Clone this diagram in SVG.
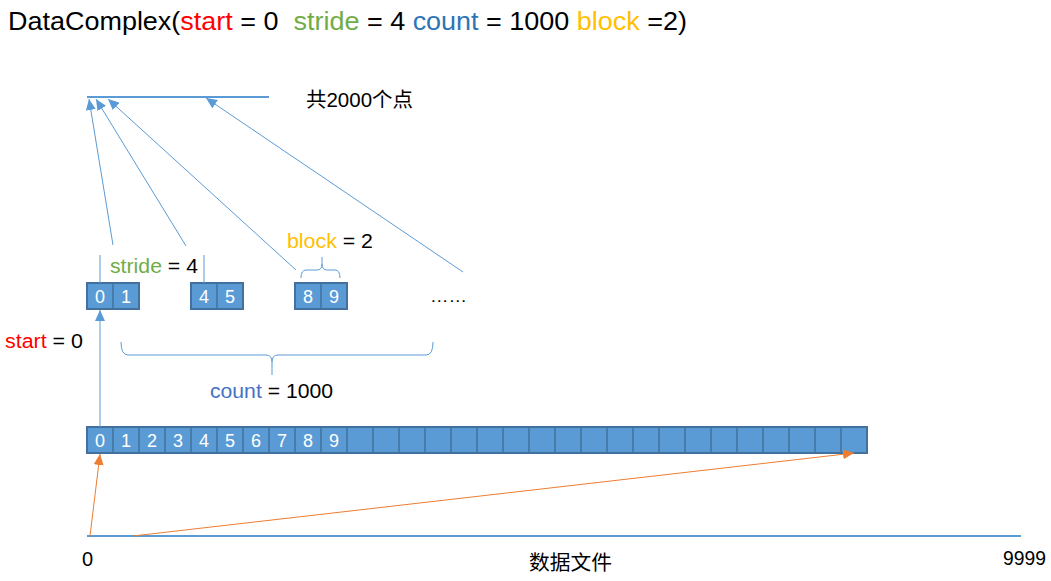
<svg xmlns="http://www.w3.org/2000/svg" width="1051" height="581" viewBox="0 0 1051 581">
<style>
text{font-family:"Liberation Sans","Noto Sans CJK SC",sans-serif;}
.cell{fill:#5B9BD5;stroke:#41719C;stroke-width:2;}
.div{stroke:#41719C;stroke-width:1.5;}
.ct{fill:#fff;font-size:18px;text-anchor:middle;}
.bl{stroke:#5B9BD5;stroke-width:1;fill:none;}
.or{stroke:#ED7D31;stroke-width:1;fill:none;}
.lbl{font-size:20px;fill:#000;}
</style>
<defs>
<marker id="ab" markerUnits="userSpaceOnUse" markerWidth="12" markerHeight="10" refX="11" refY="5" orient="auto"><path d="M0,0 L11,5 L0,10 z" fill="#5B9BD5"/></marker>
<marker id="ao" markerUnits="userSpaceOnUse" markerWidth="12" markerHeight="10" refX="11" refY="5" orient="auto"><path d="M0,0 L11,5 L0,10 z" fill="#ED7D31"/></marker>
</defs>
<rect width="1051" height="581" fill="#fff"/>
<g id="title"><text x="8" y="30" font-size="26" fill="#000" xml:space="preserve" textLength="679" lengthAdjust="spacingAndGlyphs">DataComplex(<tspan fill="#FF0000">start</tspan> = 0  <tspan fill="#70AD47">stride</tspan> = 4 <tspan fill="#2E75B6">count</tspan> = 1000 <tspan fill="#FFC000">block</tspan> =2)</text></g>
<g id="target"><line x1="87" y1="97" x2="269" y2="97" stroke="#5B9BD5" stroke-width="2"/><text class="lbl" x="306" y="107" textLength="107" lengthAdjust="spacingAndGlyphs">共2000个点</text></g>
<g id="arr01"><rect class="cell" x="87" y="283" width="52" height="26"/><line class="div" x1="113" y1="283" x2="113" y2="309"/><text class="ct" x="100" y="303">0</text><text class="ct" x="126" y="303">1</text></g>
<g id="arr45"><rect class="cell" x="191" y="283" width="52" height="26"/><line class="div" x1="217" y1="283" x2="217" y2="309"/><text class="ct" x="204" y="303">4</text><text class="ct" x="230" y="303">5</text></g>
<g id="arr89"><rect class="cell" x="295" y="283" width="52" height="26"/><line class="div" x1="321" y1="283" x2="321" y2="309"/><text class="ct" x="308" y="303">8</text><text class="ct" x="334" y="303">9</text></g>
<g id="dots"><text x="430" y="302" font-size="16" fill="#000" textLength="37" lengthAdjust="spacingAndGlyphs">……</text></g>
<g id="stride"><text class="lbl" x="110" y="273" textLength="88" lengthAdjust="spacingAndGlyphs"><tspan fill="#70AD47">stride</tspan> = 4</text></g>
<g id="block"><text class="lbl" x="287" y="248" textLength="86" lengthAdjust="spacingAndGlyphs"><tspan fill="#FFC000">block</tspan> = 2</text></g>
<g id="start"><text class="lbl" x="5" y="348" textLength="78" lengthAdjust="spacingAndGlyphs"><tspan fill="#FF0000">start</tspan> = 0</text></g>
<g id="count"><text class="lbl" x="210" y="398" textLength="123" lengthAdjust="spacingAndGlyphs"><tspan fill="#4472C4">count</tspan> = 1000</text></g>
<g id="bigarray">
<rect class="cell" x="87" y="427" width="780" height="26"/>
<path class="div" d="M113,427V453M139,427V453M165,427V453M191,427V453M217,427V453M243,427V453M269,427V453M295,427V453M321,427V453M347,427V453M373,427V453M399,427V453M425,427V453M451,427V453M477,427V453M503,427V453M529,427V453M555,427V453M581,427V453M607,427V453M633,427V453M659,427V453M685,427V453M711,427V453M737,427V453M763,427V453M789,427V453M815,427V453M841,427V453"/>
<text class="ct" x="100" y="447">0</text><text class="ct" x="126" y="447">1</text><text class="ct" x="152" y="447">2</text><text class="ct" x="178" y="447">3</text><text class="ct" x="204" y="447">4</text><text class="ct" x="230" y="447">5</text><text class="ct" x="256" y="447">6</text><text class="ct" x="282" y="447">7</text><text class="ct" x="308" y="447">8</text><text class="ct" x="334" y="447">9</text>
</g>
<g id="file"><line x1="87" y1="536" x2="1021" y2="536" stroke="#5B9BD5" stroke-width="2"/><text class="lbl" x="82" y="566">0</text><text class="lbl" x="529" y="570" textLength="83" lengthAdjust="spacingAndGlyphs">数据文件</text><text class="lbl" x="1003" y="565" textLength="43" lengthAdjust="spacingAndGlyphs">9999</text></g>
<g id="connectors">
<line class="bl" x1="113" y1="245" x2="89" y2="99" marker-end="url(#ab)"/>
<line class="bl" x1="186" y1="246" x2="96" y2="99" marker-end="url(#ab)"/>
<line class="bl" x1="296" y1="270" x2="108" y2="99" marker-end="url(#ab)"/>
<line class="bl" x1="463" y1="272" x2="206" y2="98" marker-end="url(#ab)"/>
<line class="bl" x1="100" y1="255" x2="100" y2="283"/>
<line class="bl" x1="204" y1="255" x2="204" y2="283"/>
<path class="bl" d="M301,278 Q301,270 306,270 L317,270 Q322,270 322,264 L322,257 M322,264 Q322,270 327,270 L335,270 Q340,270 340,278"/>
<path class="bl" d="M121,342 Q121,355 128,355 L266,355 Q272,355 272,362 L272,375 M272,362 Q272,355 278,355 L426,355 Q433,355 433,342"/>
<line class="bl" x1="100" y1="427" x2="100" y2="310" marker-end="url(#ab)"/>
<line class="or" x1="90" y1="536" x2="100" y2="454" marker-end="url(#ao)"/>
<line class="or" x1="133" y1="536" x2="854" y2="453" marker-end="url(#ao)"/>
</g>
</svg>
